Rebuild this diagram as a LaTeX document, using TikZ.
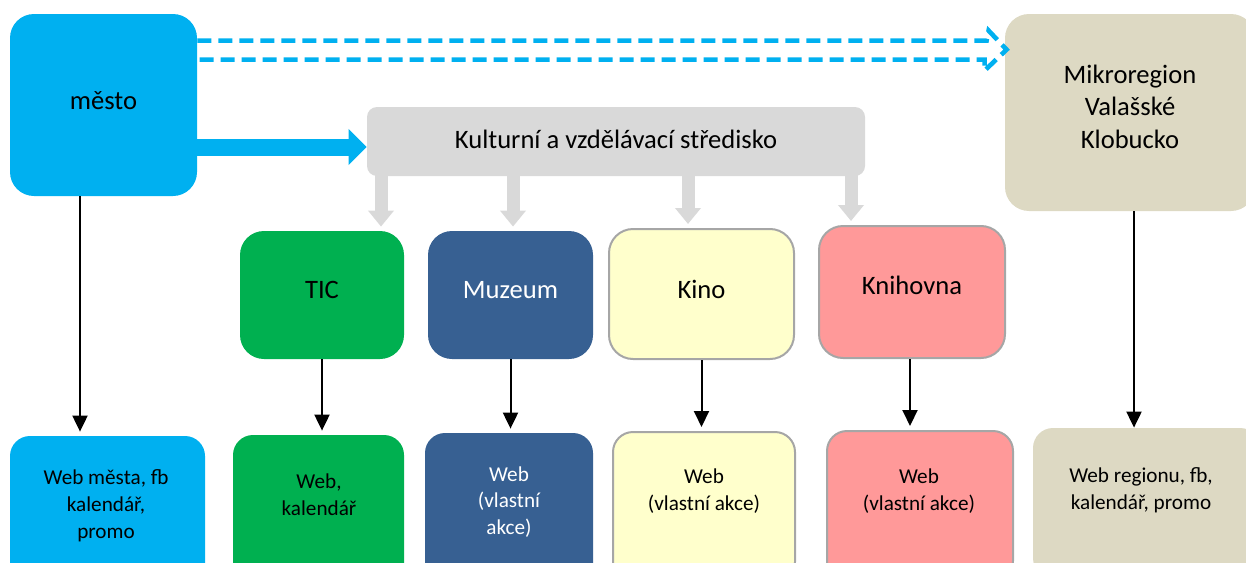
\documentclass[tikz,border=0pt]{standalone}
\usepackage{fontspec}
\setmainfont{Carlito}
\usetikzlibrary{calc}
\usetikzlibrary{arrows.meta}

\definecolor{mestoblue}{HTML}{00B0F0}
\definecolor{ticgreen}{HTML}{00B050}
\definecolor{muzeumblue}{HTML}{376092}
\definecolor{kinoyellow}{HTML}{FFFFCC}
\definecolor{knihovnapink}{HTML}{FF9999}
\definecolor{regiontan}{HTML}{DDD9C3}
\definecolor{kvsgray}{HTML}{D9D9D9}
\definecolor{edgegray}{HTML}{A6A6A6}

\begin{document}
\begin{tikzpicture}[x=0.5pt, y=-0.5pt,
    box/.style={rounded corners=12pt, inner sep=0pt, align=center, text depth=5pt, font=\fontsize{13.3}{16.2}\selectfont},
    webbox/.style={rounded corners=10pt, inner sep=0pt, minimum height=75pt},
    webtext/.style={align=center, inner sep=0pt, font=\fontsize{10.6}{13.4}\selectfont},
    edged/.style={draw=edgegray, line width=1pt},
    down/.style={-{Triangle[width=7.5pt,length=8pt]}, line width=1pt, shorten >=2pt},
    feed/.style={-{Triangle[width=12.5pt,length=8pt]}, line width=6.5pt, kvsgray, shorten <=-2pt, shorten >=2pt},
    push/.style={-{Triangle[width=17.5pt,length=9pt]}, line width=8.5pt, mestoblue},
    dashblock/.style={draw=mestoblue, line width=2.3pt, dash pattern=on 7pt off 3.5pt, miter limit=4}
]
\useasboundingbox (0,0) rectangle (1246,562);
\clip (0,0) rectangle (1246,562);

% --- TOP: CITY, REGION, CENTRE ---
\node[box, text depth=4pt, fill=mestoblue, minimum width=93.5pt, minimum height=91pt] (mesto) at (103.5,105) {město};
\node[box, text depth=6pt, fill=regiontan, minimum width=125pt, minimum height=98.5pt] (region) at (1130,112.5)
    {Mikroregion\\Valašské\\Klobucko};
\node[box, text depth=2pt, rounded corners=5pt, fill=kvsgray, minimum width=249pt, minimum height=34.5pt] (kvs) at (616,141.5)
    {Kulturní a vzdělávací středisko};

% --- MIDDLE: INSTITUTIONS ---
\node[box, fill=ticgreen, minimum width=82pt, minimum height=64pt] (tic) at (322,295) {TIC};
\node[box, fill=muzeumblue, text=white, minimum width=82.5pt, minimum height=64pt] (muzeum) at (510.5,295) {Muzeum};
\node[box, edged, fill=kinoyellow, minimum width=92.5pt, minimum height=65pt] (kino) at (701.5,294) {Kino};
\node[box, edged, text depth=7pt, fill=knihovnapink, minimum width=93pt, minimum height=66pt] (knihovna) at (912,292) {Knihovna};

% --- BOTTOM: CHANNELS ---
\node[webbox, fill=mestoblue, minimum width=97.5pt] (mestoweb) at (107.5,511) {};
\node[webbox, fill=ticgreen, minimum width=85.5pt] (ticweb) at (318.5,510) {};
\node[webbox, fill=muzeumblue, minimum width=84pt] (muzeumweb) at (509,508) {};
\node[webbox, edged, fill=kinoyellow, minimum width=91pt] (kinoweb) at (704,507) {};
\node[webbox, edged, fill=knihovnapink, minimum width=93pt] (knihovnaweb) at (920,506) {};
\node[webbox, fill=regiontan, minimum width=113.5pt] (regionweb) at (1146.5,503) {};

\node[webtext] (mestowebtxt) at (106,506) {Web města, fb\\kalendář,\\promo};
\node[webtext] (ticwebtxt) at (319,495) {Web,\\kalendář};
\node[webtext, text=white] (muzeumwebtxt) at (509,502) {Web\\(vlastní\\akce)};
\node[webtext] (kinowebtxt) at (704,491) {Web\\(vlastní akce)};
\node[webtext] (knihovnawebtxt) at (919,491) {Web\\(vlastní akce)};
\node[webtext] (regionwebtxt) at (1141,490) {Web regionu, fb,\\kalendář, promo};

% --- CONNECTORS ---
\coordinate (dtop) at ($(mesto.north east)+(0,27)$);
\coordinate (dbot) at ($(mesto.north east)+(0,46)$);
\coordinate (dtip) at ($(region.north west)+(2,36)$);
\draw[dashblock] (dtop) -- ($(dtop -| dtip)+(-20,0)$) -- ($(dtip)+(-18,-19)$) -- (dtip)
    -- ($(dtip)+(-22,21)$) -- ($(dbot -| dtip)+(-22,0)$) -- (dbot);

\draw[push] ([yshift=-21pt]mesto.east) -- ([yshift=-21pt]mesto.east -| kvs.west);

\foreach \dx/\target in {-117.5/tic, -51.5/muzeum, 36/kino, 117.5/knihovna}
    \draw[feed] ([xshift=\dx pt]kvs.south) -- ([xshift=\dx pt]kvs.south |- \target.north);

\draw[down] ([xshift=-11.75pt]mesto.south) -- ([xshift=-11.75pt]mesto.south |- mestoweb.north);
\draw[down] (tic.south) -- (tic.south |- ticweb.north);
\draw[down] (muzeum.south) -- (muzeum.south |- muzeumweb.north);
\draw[down] (kino.south) -- (kino.south |- kinoweb.north);
\draw[down] ([xshift=-1pt]knihovna.south) -- ([xshift=-1pt]knihovna.south |- knihovnaweb.north);
\draw[down, shorten >=0pt] ([xshift=2pt]region.south) -- ([xshift=2pt]region.south |- regionweb.north);

\end{tikzpicture}
\end{document}
